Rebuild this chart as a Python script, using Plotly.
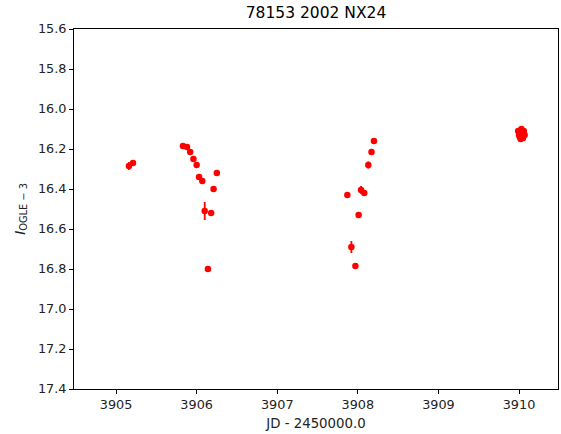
import plotly.graph_objects as go

jd = [3905.16, 3905.21, 3905.83, 3905.88, 3905.92, 3905.96, 3906.00, 3906.03,
      3906.07, 3906.10, 3906.14, 3906.18, 3906.21, 3906.25,
      3907.87, 3907.92, 3907.97, 3908.01, 3908.04, 3908.08, 3908.13, 3908.17, 3908.20,
      3909.99, 3910.00, 3910.01, 3910.02, 3910.03, 3910.04, 3910.05, 3910.06, 3910.07, 3910.02, 3910.05]
mag = [16.285, 16.27, 16.185, 16.19, 16.215, 16.25, 16.28, 16.34,
       16.36, 16.51, 16.80, 16.52, 16.40, 16.32,
       16.43, 16.69, 16.785, 16.53, 16.405, 16.42, 16.28, 16.215, 16.16,
       16.11, 16.13, 16.14, 16.12, 16.10, 16.13, 16.12, 16.11, 16.13, 16.15, 16.145]
err = [0.02, 0.012, 0.008, 0.008, 0.008, 0.008, 0.008, 0.01,
       0.01, 0.045, 0.015, 0.008, 0.01, 0.01,
       0.012, 0.03, 0.008, 0.008, 0.02, 0.01, 0.018, 0.015, 0.008,
       0.015, 0.012, 0.01, 0.01, 0.012, 0.01, 0.01, 0.01, 0.01, 0.01, 0.01]

title = "78153 2002 NX24"
xlabel = "JD - 2450000.0"
ylabel = "<i>I</i><sub>OGLE − 3</sub>"
xticks = [3905, 3906, 3907, 3908, 3909, 3910]
yticks = [15.6, 15.8, 16.0, 16.2, 16.4, 16.6, 16.8, 17.0, 17.2, 17.4]

fig = go.Figure()
fig.add_trace(go.Scatter(
    x=jd, y=mag, mode="markers",
    marker=dict(color="red", size=6.5),
    error_y=dict(type="data", array=err, color="red", thickness=1.8, width=0),
    showlegend=False,
))

axis_common = dict(
    showline=True, linecolor="black", linewidth=1, mirror=True,
    ticks="outside", ticklen=4, tickcolor="black", tickwidth=1,
    showgrid=False, zeroline=False,
    tickfont=dict(family="DejaVu Sans", size=12.8, color="#222"),
)
fig.update_xaxes(range=[3904.478, 3910.484], tickvals=xticks,
                 ticktext=[str(t) for t in xticks],
                 title=dict(text=xlabel, font=dict(family="DejaVu Sans", size=13.3, color="#222"), standoff=7),
                 **axis_common)
fig.update_yaxes(range=[17.4, 15.6], tickvals=yticks,
                 ticktext=[f"{t:.1f}" for t in yticks],
                 title=dict(text=ylabel, font=dict(family="DejaVu Sans", size=14, color="#222"), standoff=9),
                 **axis_common)
fig.update_layout(
    width=561, height=434,
    margin=dict(l=74, r=3, t=29, b=45),
    plot_bgcolor="white", paper_bgcolor="white",
    title=dict(text=title, x=0.5, xanchor="center", xref="paper", y=0.971, yanchor="middle",
               font=dict(family="DejaVu Sans", size=15.5, color="black")),
)
fig.write_html("out.html")
